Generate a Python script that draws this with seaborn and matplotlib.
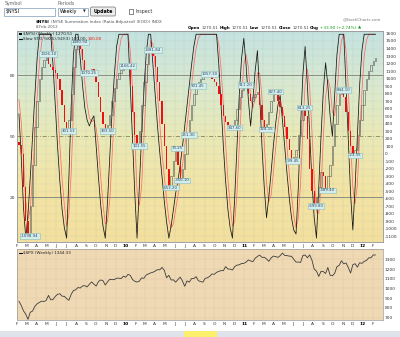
import numpy as np
import pandas as pd
import matplotlib
matplotlib.use("Agg")
import matplotlib.pyplot as plt
import matplotlib.dates as mdates
from matplotlib.patches import Rectangle, FancyBboxPatch
from matplotlib.colors import LinearSegmentedColormap
import seaborn as sns

sns.set_style("white")
plt.rcParams["font.family"] = ["DejaVu Sans"]

W, H = 400, 337

# ---------------- data ----------------
week_start = "2009-02-06"
n_weeks = 158

# NYSE Summation Index, weekly closes
nysi_close = [
    115, -10, -450, -900, -1098.94, -700, -150, 350, 700, 990,
    1150, 1250, 1326.10, 1200, 1150, 1120, 1080, 1000, 850, 650,
    420, 301.53, 450, 800, 1150, 1400, 1480.94, 1400, 1250, 1120,
    1070.25, 1100, 1130, 1100, 950, 750, 550, 400, 303.50, 380,
    520, 700, 880, 1000, 1080, 1120, 1150, 1166.42, 1150, 900,
    550, 250, 101.55, 300, 650, 950, 1200, 1350, 1381.84, 1300,
    1150, 950, 700, 400, 100, -200, -453.20, -300, -100, 70.25,
    -150, -356.10, -200, 0, 251.30, 450, 650, 800, 901.45, 950,
    1000, 1030, 1050, 1057.30, 1040, 1000, 950, 900, 800, 650,
    500, 420, 380, 350, 347.60, 450, 600, 750, 850, 911.20,
    880, 800, 700, 750, 800, 820, 650, 450, 324.15, 400,
    550, 700, 827.40, 780, 700, 620, 500, 350, 200, 50,
    -99.45, -50, 50, 250, 450, 613.25, 500, 200, -200, -500,
    -699.80, -580, -450, -250, -300, -489.40, -300, -150, 100, 400,
    650, 800, 844.10, 750, 550, 300, 100, -23.35, 50, 250,
    450, 650, 850, 1000, 1100, 1180, 1236.61, 1270.51,
]
nysi_first_open = 160

# Slow stochastic %K(5) and %D(3)
stoch_k = [
    61, 40, 15, 0, 12, 30, 50, 70, 88, 100,
    100, 100, 100, 100, 100, 85, 65, 45, 28, 14,
    5, 0, 30, 65, 90, 100, 100, 88, 75, 64,
    58, 55, 58, 60, 45, 30, 16, 6, 0, 18,
    40, 62, 80, 94, 100, 100, 100, 100, 100, 75,
    48, 22, 0, 25, 50, 72, 90, 100, 100, 85,
    70, 55, 42, 30, 18, 8, 0, 6, 14, 22,
    28, 36, 45, 55, 65, 75, 85, 94, 100, 100,
    100, 100, 100, 100, 100, 100, 100, 100, 85, 65,
    45, 28, 14, 5, 0, 20, 45, 70, 88, 98,
    85, 68, 55, 68, 82, 92, 70, 45, 25, 10,
    20, 32, 45, 56, 65, 70, 58, 45, 32, 20,
    10, 4, 2, 25, 55, 80, 94, 75, 52, 28,
    10, 0, 25, 50, 72, 86, 75, 60, 50, 70,
    90, 100, 100, 100, 75, 48, 22, 4, 25, 50,
    75, 92, 100, 100, 100, 100, 100, 100,
]
stoch_d = [
    68, 57, 39, 18, 9, 14, 31, 50, 69, 86,
    96, 100, 100, 100, 100, 95, 83, 65, 46, 29,
    16, 6, 12, 32, 62, 85, 97, 96, 88, 76,
    66, 59, 57, 58, 54, 45, 30, 17, 7, 8,
    19, 40, 61, 79, 91, 98, 100, 100, 100, 92,
    74, 48, 23, 16, 25, 49, 71, 87, 97, 95,
    85, 70, 56, 42, 30, 19, 9, 5, 7, 14,
    21, 29, 36, 45, 55, 65, 75, 85, 93, 98,
    100, 100, 100, 100, 100, 100, 100, 100, 95, 83,
    65, 46, 29, 16, 6, 8, 22, 45, 68, 85,
    90, 84, 69, 64, 68, 81, 81, 69, 47, 27,
    18, 21, 32, 44, 55, 64, 64, 58, 45, 32,
    21, 11, 5, 10, 27, 53, 76, 83, 74, 52,
    30, 13, 12, 25, 49, 69, 78, 74, 62, 60,
    70, 87, 97, 100, 92, 74, 48, 25, 17, 26,
    50, 72, 89, 97, 100, 100, 100, 100,
]

# S&P 500, weekly closes
spx_close = [
    869, 827, 770, 735, 683, 756, 768, 816, 842, 857,
    870, 866, 877, 929, 883, 887, 919, 940, 946, 921,
    919, 896, 879, 940, 979, 987, 1010, 1005, 1026, 1029,
    1016, 1043, 1068, 1044, 1025, 1071, 1088, 1080, 1036, 1069,
    1094, 1091, 1091, 1106, 1106, 1102, 1127, 1115, 1145, 1136,
    1092, 1074, 1066, 1075, 1109, 1105, 1138, 1150, 1160, 1167,
    1179, 1194, 1192, 1217, 1187, 1111, 1136, 1087, 1089, 1065,
    1092, 1117, 1076, 1023, 1078, 1065, 1102, 1102, 1122, 1080,
    1071, 1065, 1105, 1110, 1126, 1149, 1146, 1166, 1176, 1184,
    1183, 1225, 1200, 1199, 1190, 1225, 1240, 1244, 1257, 1258,
    1271, 1293, 1283, 1276, 1311, 1330, 1343, 1320, 1321, 1304,
    1279, 1313, 1333, 1328, 1320, 1337, 1364, 1340, 1338, 1333,
    1331, 1300, 1271, 1272, 1268, 1340, 1344, 1316, 1345, 1292,
    1199, 1179, 1124, 1177, 1174, 1154, 1216, 1136, 1131, 1155,
    1224, 1238, 1285, 1253, 1263, 1216, 1159, 1244, 1255, 1220,
    1265, 1258, 1278, 1289, 1315, 1316, 1344.90, 1344.33,
]

# weeks whose NYSI close is annotated with a value tag
label_weeks = [4, 12, 21, 26, 30, 38, 47, 52, 58, 66, 69, 71, 74, 78, 83,
               94, 99, 108, 112, 120, 125, 130, 135, 142, 147]

month_letters = ["J", "F", "M", "A", "M", "J", "J", "A", "S", "O", "N", "D"]
nysi_ticks = list(range(-1100, 1700, 100))
stoch_ticks = [20, 50, 80]
spx_ticks = [700, 800, 900, 1000, 1100, 1200, 1300]

# ---------------- layout helpers ----------------
fig = plt.figure(figsize=(W / 100, H / 100), dpi=100)
fig.patch.set_facecolor("white")


def rect(x0, y0, x1, y1):
    return [x0 / W, 1 - y1 / H, (x1 - x0) / W, (y1 - y0) / H]


weeks = pd.date_range(week_start, periods=n_weeks, freq="7D")
xnum = mdates.date2num(weeks)
close = np.array(nysi_close, dtype=float)
open_ = np.r_[nysi_first_open, close[:-1]]
xlim = (mdates.date2num(pd.Timestamp("2009-01-31")),
        mdates.date2num(pd.Timestamp("2012-03-04")))
months = pd.date_range("2009-02-01", "2012-02-01", freq="MS")
month_num = mdates.date2num(months)
month_lab = [f"{d.year % 100:02d}" if d.month == 1 else month_letters[d.month - 1]
             for d in months]

TXT = "#333333"
FS = 3.2

# ---------------- main panel background ----------------
main_box = rect(17, 31, 383, 242)
bg = fig.add_axes(main_box, zorder=-2)
bg_cmap = LinearSegmentedColormap.from_list(
    "panel", ["#c4e3e1", "#d9e9d0", "#eae9b6", "#f3e4a4", "#f4e09e"])
bg.imshow(np.linspace(0, 1, 256).reshape(-1, 1), aspect="auto", cmap=bg_cmap,
          extent=[0, 1, 0, 1])
bg.axis("off")

ax_s = fig.add_axes(main_box)
ax_s.set_facecolor("none")
ax_n = ax_s.twinx()
ax_n.set_facecolor("none")

# grid
for m in month_num:
    ax_s.axvline(m, color="#a8b8ae", lw=0.35, ls=(0, (1, 1.6)), zorder=1)
for v in nysi_ticks:
    ax_n.axhline(v, color="#b4c2b2", lw=0.3, ls=(0, (1, 1.6)), zorder=1)

# stochastic reference levels
ax_s.axhline(80, color="#7c8078", lw=0.6, zorder=2)
ax_s.axhline(20, color="#7c8078", lw=0.6, zorder=2)
ax_s.axhline(50, color="#86865a", lw=0.6, ls=(0, (5, 2, 1, 2)), zorder=2)

# stochastic lines
sns.lineplot(x=xnum, y=stoch_d, ax=ax_s, color="#ff6a6a", lw=0.55, legend=False, zorder=3)
sns.lineplot(x=xnum, y=stoch_k, ax=ax_s, color="#111111", lw=0.55, legend=False, zorder=4)

# NYSI candles
down = close < open_
ax_n.bar(xnum[down], (open_ - close)[down], bottom=close[down], width=4.2,
         color="#ee1010", lw=0, zorder=3)
ax_n.bar(xnum[~down], (close - open_)[~down], bottom=open_[~down], width=4.2,
         facecolor="none", edgecolor="#5a5a5a", lw=0.4, zorder=3)

# value tags
for i in label_weeks:
    v = close[i]
    ax_n.text(xnum[i] + 6, v, f"{v:.2f}", fontsize=2.8, color="#2c4a66",
              ha="center", va="center", zorder=6,
              bbox=dict(boxstyle="square,pad=0.2", fc="#d3ecec", ec="#8cbcbc", lw=0.4))

ax_s.set_xlim(*xlim)
ax_s.set_ylim(-1.9, 101.6)
ax_n.set_ylim(-1176, 1633)

ax_s.set_yticks(stoch_ticks)
ax_s.set_yticklabels([str(t) for t in stoch_ticks])
ax_n.set_yticks(nysi_ticks)
ax_n.set_yticklabels([str(t) for t in nysi_ticks])
for a in (ax_s, ax_n):
    a.tick_params(axis="y", length=0, pad=1.5, labelsize=FS, labelcolor=TXT)
    a.set_ylabel("")
    for sp in a.spines.values():
        sp.set_color("#9a9a9a")
        sp.set_linewidth(0.5)
ax_s.set_xticks(month_num)
ax_s.set_xticklabels(month_lab)
ax_s.tick_params(axis="x", length=0, pad=1.2, labelsize=FS, labelcolor=TXT)
for t in ax_s.get_xticklabels():
    if t.get_text().isdigit():
        t.set_fontweight("bold")
        t.set_color("black")

# ---------------- lower panel (S&P 500) ----------------
ax_p = fig.add_axes(rect(17, 249, 383, 320))
ax_p.set_facecolor("#efd8b4")
for m in month_num:
    ax_p.axvline(m, color="#c9b48e", lw=0.35, ls=(0, (1, 1.6)), zorder=1)
for v in spx_ticks:
    ax_p.axhline(v, color="#c9b48e", lw=0.35, ls=(0, (1, 1.6)), zorder=1)
sns.lineplot(x=xnum, y=spx_close, ax=ax_p, color="#3c3c3c", lw=0.6, legend=False, zorder=3)
ax_p.set_xlim(*xlim)
ax_p.set_ylim(676, 1406)
ax_p.yaxis.tick_right()
ax_p.set_yticks(spx_ticks)
ax_p.set_yticklabels([str(t) for t in spx_ticks])
ax_p.set_ylabel("")
ax_p.set_xticks(month_num)
ax_p.set_xticklabels(month_lab)
ax_p.tick_params(axis="both", length=0, pad=1.2, labelsize=FS, labelcolor=TXT)
for t in ax_p.get_xticklabels():
    if t.get_text().isdigit():
        t.set_fontweight("bold")
        t.set_color("black")
for sp in ax_p.spines.values():
    sp.set_color("#9a9a9a")
    sp.set_linewidth(0.5)

# ---------------- page furniture (pixel coordinates) ----------------
ov = fig.add_axes([0, 0, 1, 1], zorder=10)
ov.set_xlim(0, W)
ov.set_ylim(H, 0)
ov.axis("off")
renderer = fig.canvas.get_renderer()


def chain(x, y, pieces, size=FS):
    for s, kw in pieces:
        t = ov.text(x, y, s, va="center", ha="left", fontsize=size, **kw)
        x += t.get_window_extent(renderer=renderer).width + 1.3
    return x


# symbol form
ov.text(5, 3.6, "Symbol", fontsize=3.4, color="#666666", va="center")
ov.add_patch(Rectangle((3.5, 7.5), 51, 8, fc="white", ec="#7f9db9", lw=0.5))
ov.text(5.5, 11.5, "$NYSI", fontsize=3.4, color="black", va="center")
ov.text(58, 3.6, "Periods", fontsize=3.4, color="#666666", va="center")
ov.add_patch(Rectangle((57.5, 7.5), 30, 8, fc="white", ec="#7f9db9", lw=0.5))
ov.text(60, 11.5, "Weekly", fontsize=3.4, color="black", va="center")
ov.text(82.5, 11.5, "▼", fontsize=2.6, color="#333333", va="center")
ov.add_patch(FancyBboxPatch((90.5, 7), 25, 9, boxstyle="round,pad=0,rounding_size=1.5",
                            fc="#ececec", ec="#707070", lw=0.5))
ov.text(103, 11.5, "Update", fontsize=3.4, color="black", fontweight="bold",
        ha="center", va="center")
ov.add_patch(Rectangle((129, 9.3), 4.4, 4.4, fc="white", ec="#555555", lw=0.5))
ov.text(135, 11.7, "Inspect", fontsize=3.4, color="#333333", va="center")

# chart title block
chain(36, 21.5, [("$NYSI", dict(color="black", fontweight="bold")),
                 ("(NYSE Summation Index (Ratio Adjusted) (EOD)) INDX",
                  dict(color="#555555"))], size=3.0)
ov.text(36, 26.6, "8-Feb-2012", fontsize=2.9, color="#555555", va="center")
ov.text(381, 19.5, "@StockCharts.com", fontsize=2.9, color="#777777",
        va="center", ha="right")
chain(188, 27.6, [("Open", dict(color="black", fontweight="bold")),
                  ("1270.51", dict(color="#444444")),
                  ("High", dict(color="black", fontweight="bold")),
                  ("1270.51", dict(color="#444444")),
                  ("Low", dict(color="black", fontweight="bold")),
                  ("1270.51", dict(color="#444444")),
                  ("Close", dict(color="black", fontweight="bold")),
                  ("1270.51", dict(color="#444444")),
                  ("Chg", dict(color="black", fontweight="bold")),
                  ("+33.90 (+2.74%)", dict(color="#119911")),
                  ("▲", dict(color="#119911"))], size=3.0)

# legends inside the panels
ov.add_patch(Rectangle((19, 32.6), 2.6, 2.6, fc="black", lw=0))
chain(23, 34.0, [("$NYSI (Weekly) 1270.51", dict(color="#222222"))], size=3.0)
ov.plot([19, 22], [39.0, 39.0], color="black", lw=0.8)
chain(23, 39.0, [("Slow STO %K(5),%D(3) 100.00,", dict(color="#222222")),
                 ("100.00", dict(color="#ee1111"))], size=3.0)
ov.plot([19, 22], [253.0, 253.0], color="black", lw=0.8)
chain(23, 253.0, [("$SPX (Weekly) 1344.33", dict(color="#222222"))], size=3.0)

# bottom toolbar strip
ov.add_patch(Rectangle((0, 331), W, 6, fc="#dfe4eb", lw=0))
ov.add_patch(Rectangle((184, 331), 33, 6, fc="#fbef6c", lw=0))

fig.savefig("out.png", dpi=100, facecolor="white")
